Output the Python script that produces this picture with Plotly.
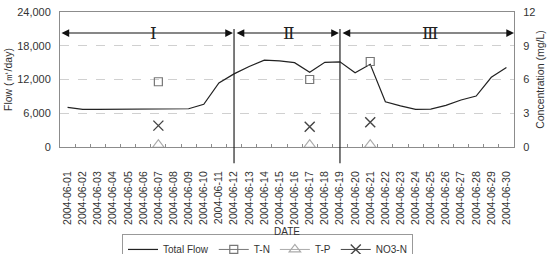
import plotly.graph_objects as go

dates = ["2004-06-01", "2004-06-02", "2004-06-03", "2004-06-04", "2004-06-05",
         "2004-06-06", "2004-06-07", "2004-06-08", "2004-06-09", "2004-06-10",
         "2004-06-11", "2004-06-12", "2004-06-13", "2004-06-14", "2004-06-15",
         "2004-06-16", "2004-06-17", "2004-06-18", "2004-06-19", "2004-06-20",
         "2004-06-21", "2004-06-22", "2004-06-23", "2004-06-24", "2004-06-25",
         "2004-06-26", "2004-06-27", "2004-06-28", "2004-06-29", "2004-06-30"]

total_flow = [7050, 6700, 6680, 6680, 6680, 6680, 6700, 6750, 6800, 7600,
              11400, 13000, 14300, 15450, 15300, 15000, 13300, 15050, 15150, 13200,
              14700, 8050, 7300, 6700, 6750, 7400, 8350, 9050, 12400, 14150]

t_n = [None] * 6 + [5.8] + [None] * 9 + [6.0] + [None] * 3 + [7.6] + [None] * 9
t_p = [None] * 6 + [0.2] + [None] * 9 + [0.2] + [None] * 3 + [0.2] + [None] * 9
no3_n = [None] * 6 + [1.9] + [None] * 9 + [1.8] + [None] * 3 + [2.2] + [None] * 9

period_labels = ["Ⅰ", "Ⅱ", "Ⅲ"]
period_bounds = [-0.5, 11, 18, 29.5]
period_label_pos = [5.7, 14.6, 23.95]

font_family = "Liberation Sans, Arial, sans-serif"
axis_col = "#8c8c8c"
text_col = "#333333"

fig = go.Figure()
fig.add_trace(go.Scatter(x=dates, y=total_flow, name="Total Flow", mode="lines",
                         line=dict(color="#222222", width=1.2)))
fig.add_trace(go.Scatter(x=dates, y=t_n, name="T-N", mode="lines+markers", yaxis="y2",
                         connectgaps=False, line=dict(color="#777777", width=1),
                         marker=dict(symbol="square-open", size=8, color="#777777",
                                     line=dict(width=1.2))))
fig.add_trace(go.Scatter(x=dates, y=t_p, name="T-P", mode="lines+markers", yaxis="y2",
                         connectgaps=False, line=dict(color="#aaaaaa", width=1),
                         marker=dict(symbol="triangle-up-open", size=10, color="#aaaaaa",
                                     line=dict(width=1.2))))
fig.add_trace(go.Scatter(x=dates, y=no3_n, name="NO3-N", mode="lines+markers", yaxis="y2",
                         connectgaps=False, line=dict(color="#444444", width=1),
                         marker=dict(symbol="x-thin-open", size=10, color="#444444",
                                     line=dict(width=1.4))))

shapes = []
for b in period_bounds[1:3]:
    shapes.append(dict(type="line", xref="x", yref="paper", x0=b, x1=b,
                       y0=-0.12, y1=0.875, line=dict(color="#222222", width=1.2)))

annotations = []
arrow_y = 20260
for i in range(3):
    x0 = period_bounds[i] + (0.07 if i > 0 else 0)
    x1 = period_bounds[i + 1] - (0.07 if i < 2 else 0)
    annotations.append(dict(x=x1, y=arrow_y, xref="x", yref="y", ax=x0, ay=arrow_y,
                            axref="x", ayref="y", showarrow=True, arrowside="end+start",
                            arrowhead=2, arrowsize=1.4, arrowwidth=1.1,
                            arrowcolor="#111111", standoff=0, startstandoff=0, text=""))
    annotations.append(dict(x=period_label_pos[i], y=0.926, xref="x", yref="paper",
                            text=period_labels[i], showarrow=False,
                            font=dict(family="Liberation Serif, DejaVu Serif, serif",
                                      size=17, color="#222222")))

fig.update_layout(
    width=560, height=254,
    margin=dict(l=60, r=46, t=12, b=107, autoexpand=False),
    paper_bgcolor="white", plot_bgcolor="white",
    font=dict(family=font_family, size=10, color=text_col),
    showlegend=True,
    legend=dict(orientation="h", x=0.457, xanchor="center", y=-0.644, yanchor="top",
                bordercolor="#999999", borderwidth=1, font=dict(size=10, color="#333333"),
                itemwidth=30, tracegroupgap=0, bgcolor="white"),
    xaxis=dict(type="category", range=[-0.5, 29.5], tickangle=-90, automargin=False,
               ticks="inside", ticklen=3, tickcolor=axis_col, tickson="boundaries",
               showline=True, linecolor=axis_col, linewidth=1, mirror=True,
               showgrid=False, ticklabelstandoff=19,
               title=dict(text="DATE", standoff=4, font=dict(size=10, color="#333333")),
               tickfont=dict(size=10.5, color="#333333")),
    yaxis=dict(range=[0, 24000], dtick=6000, tickformat=",", showline=True, automargin=False,
               linecolor=axis_col, linewidth=1, ticks="", showgrid=True,
               gridcolor="#d0d0d0", griddash="dash", gridwidth=1, zeroline=False,
               ticklabelstandoff=6,
               title=dict(text="Flow (㎥/day)", standoff=2, font=dict(size=10.5, color="#333333")),
               tickfont=dict(size=11, color="#333333")),
    yaxis2=dict(range=[0, 12], dtick=3, overlaying="y", side="right", showline=True,
                automargin=False, ticklabelstandoff=6,
                linecolor=axis_col, linewidth=1, showgrid=False, zeroline=False,
                title=dict(text="Concentration (mg/L)", standoff=2,
                           font=dict(size=10.5, color="#333333")),
                tickfont=dict(size=11, color="#333333")),
    shapes=shapes,
    annotations=annotations,
)

fig.write_html("out.html")
